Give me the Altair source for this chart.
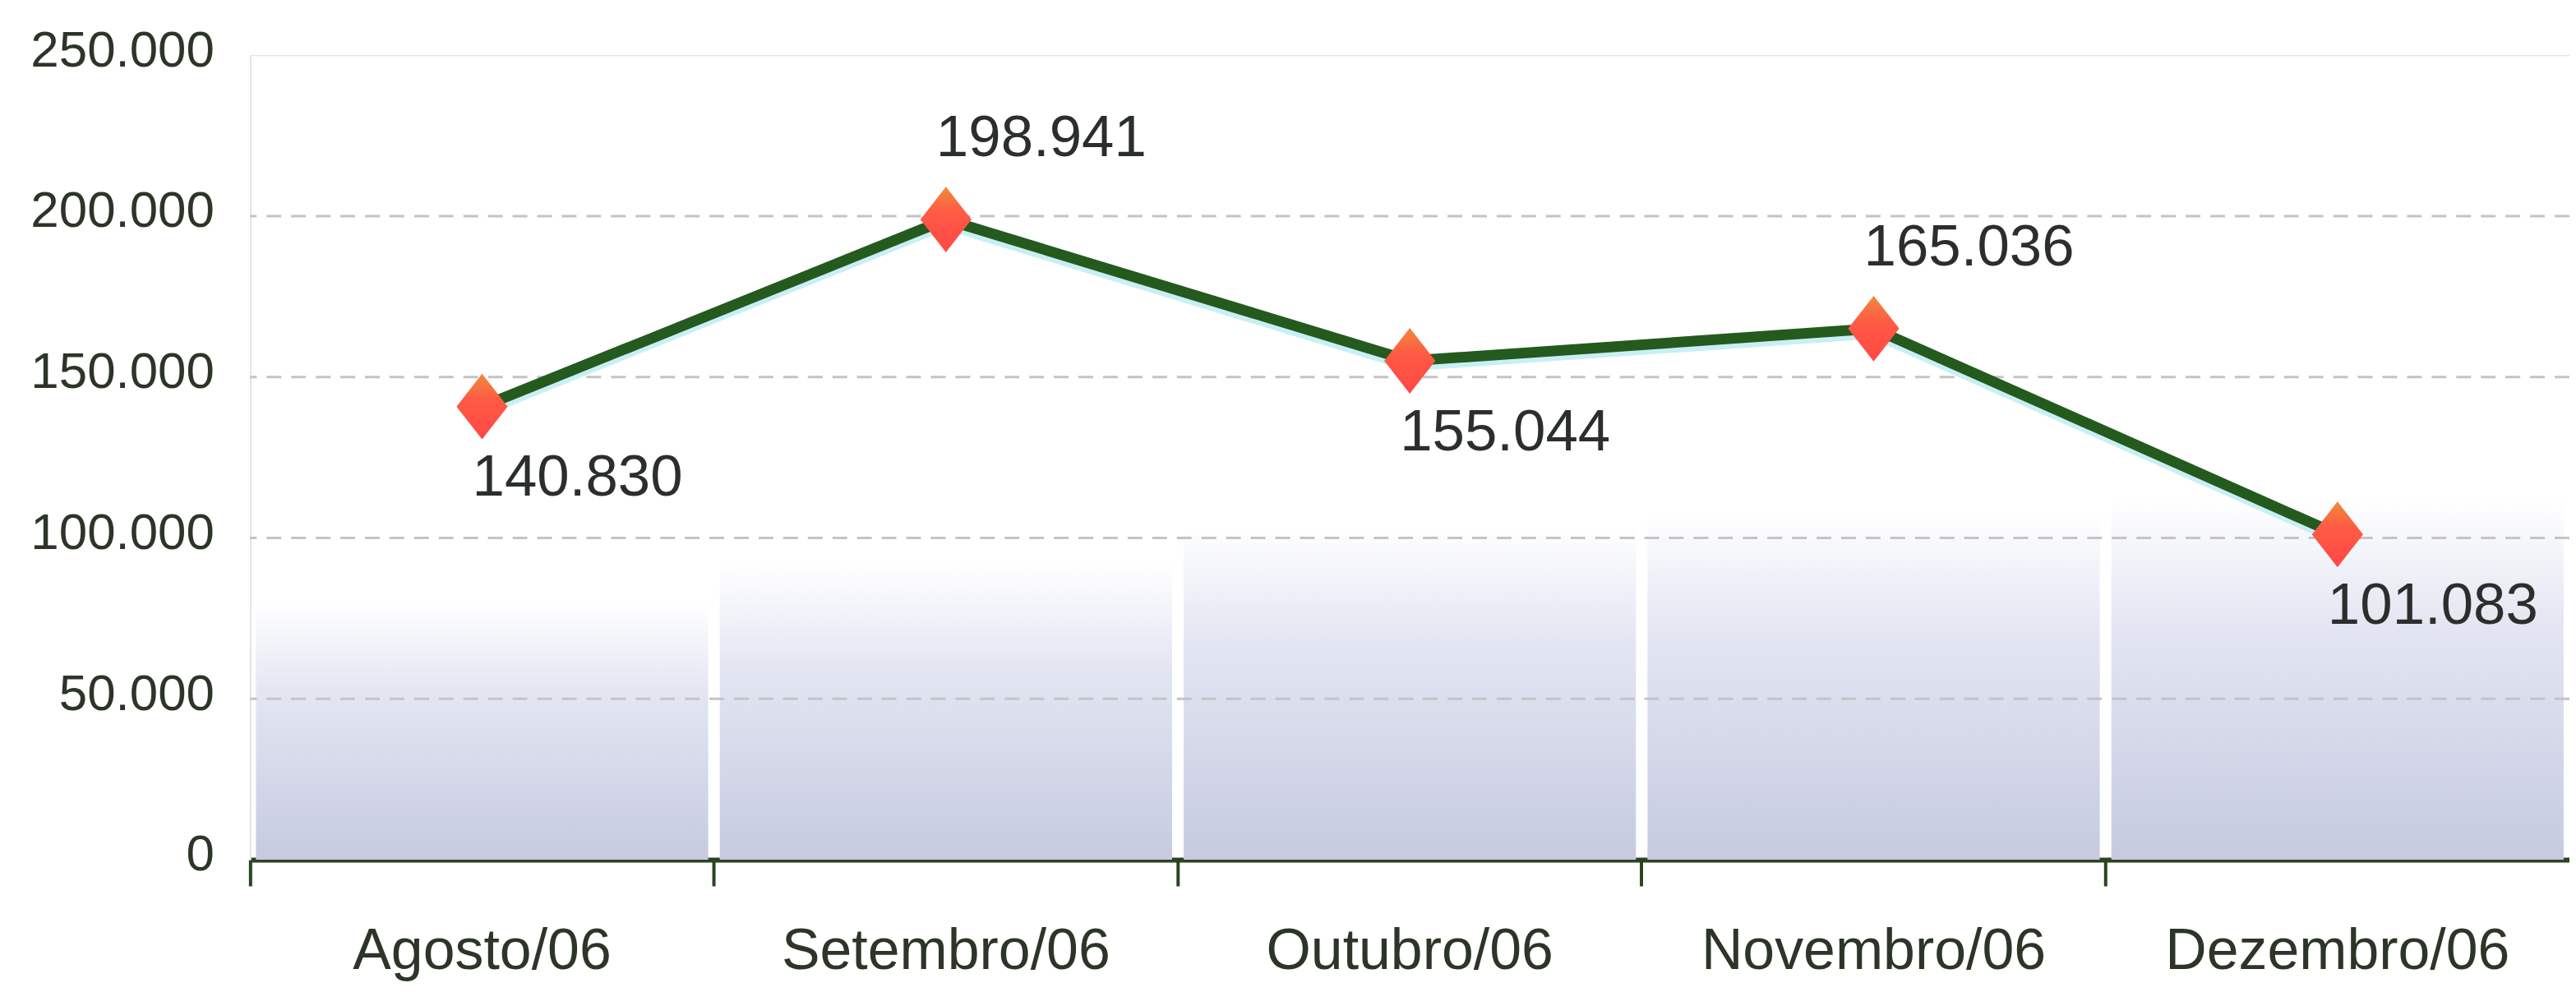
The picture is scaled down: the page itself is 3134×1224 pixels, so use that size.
import altair as alt
import pandas as pd

# ---- data ----
months = ["Agosto/06", "Setembro/06", "Outubro/06", "Novembro/06", "Dezembro/06"]
values = [140830, 198941, 155044, 165036, 101083]
label_side = ["below", "above", "below", "above", "below"]
# decorative background panels (approximate heights of the bluish panels)
panel_tops = [80000, 92000, 104000, 108000, 112000]
grid_values = [50000, 100000, 150000, 200000]
y_ticks = [0, 50000, 100000, 150000, 200000, 250000]

FONT = "Liberation Sans, Arial, Helvetica, sans-serif"
TXT = "#2c3527"

df = pd.DataFrame({"month": months, "value": values, "side": label_side, "panel": panel_tops})
grid_df = pd.DataFrame({"g": grid_values})

xscale = alt.Scale(domain=months, paddingInner=0, paddingOuter=0)
yscale = alt.Scale(domain=[0, 250000], nice=False)

x_axis = alt.Axis(
    title=None, bandPosition=0, domainColor="#2a4420", domainWidth=6,
    tickColor="#2a4420", tickWidth=4, tickSize=32, labelAngle=0,
    labelFont=FONT, labelFontSize=70, labelColor=TXT, labelPadding=46,
    labelBaseline="top", labelLimit=0, grid=False,
)
y_axis = alt.Axis(
    title=None, values=y_ticks, grid=False, ticks=False,
    domainColor="#e4e4e4", domainWidth=2, labelFont=FONT, labelFontSize=62,
    labelColor=TXT, labelPadding=44, labelOffset=-6, labelLimit=0,
    labelExpr="replace(format(datum.value, ','), ',', '.')",
)

panel_grad = alt.Gradient(
    gradient="linear",
    stops=[alt.GradientStop(color="#ffffff", offset=0),
           alt.GradientStop(color="#e3e6f2", offset=0.35),
           alt.GradientStop(color="#c6cae0", offset=1)],
    x1=0, x2=0, y1=0, y2=1,
)

panels = alt.Chart(df).mark_bar(width={"band": 0.975}, color=panel_grad).encode(
    x=alt.X("month:N", scale=xscale, axis=x_axis, sort=months),
    y=alt.Y("panel:Q", scale=yscale, axis=y_axis),
)

grid = alt.Chart(grid_df).mark_rule(color="#c4c4c4", strokeWidth=3, strokeDash=[18, 12]).encode(
    y=alt.Y("g:Q", scale=yscale),
)

base = alt.Chart(df).encode(
    x=alt.X("month:N", scale=xscale, sort=months),
    y=alt.Y("value:Q", scale=yscale),
)

halo = base.mark_line(color="#c8eff5", strokeWidth=13, yOffset=6)
line = base.mark_line(color="#245a1e", strokeWidth=13)

diamond_grad = alt.Gradient(
    gradient="linear",
    stops=[alt.GradientStop(color="#f08a3a", offset=0),
           alt.GradientStop(color="#ff5a45", offset=0.4),
           alt.GradientStop(color="#ff4845", offset=1)],
    x1=0, x2=0, y1=0, y2=1,
)
points = base.mark_point(
    shape="M0,-1L0.78,0L0,1L-0.78,0Z", size=6400, filled=True,
    fill=diamond_grad, opacity=1, strokeWidth=0,
)

label_base = base.transform_calculate(
    lbl="replace(format(datum.value, ','), ',', '.')"
)
labels_above = label_base.transform_filter(alt.datum.side == "above").mark_text(
    align="left", baseline="middle", dx=-12, dy=-98, font=FONT, fontSize=71, color="#2b2f2b",
).encode(text="lbl:N")
labels_below = label_base.transform_filter(alt.datum.side == "below").mark_text(
    align="left", baseline="middle", dx=-12, dy=88, font=FONT, fontSize=71, color="#2b2f2b",
).encode(text="lbl:N")

chart = alt.layer(panels, grid, halo, line, points, labels_above, labels_below).properties(
    width=2828, height=981,
    autosize=alt.AutoSizeParams(type="none"),
    padding={"left": 297, "top": 58, "right": 0, "bottom": 160},
).configure_view(stroke=None).configure(background="white")

chart.save("out.html", embed_options={"renderer": "svg", "actions": False})
